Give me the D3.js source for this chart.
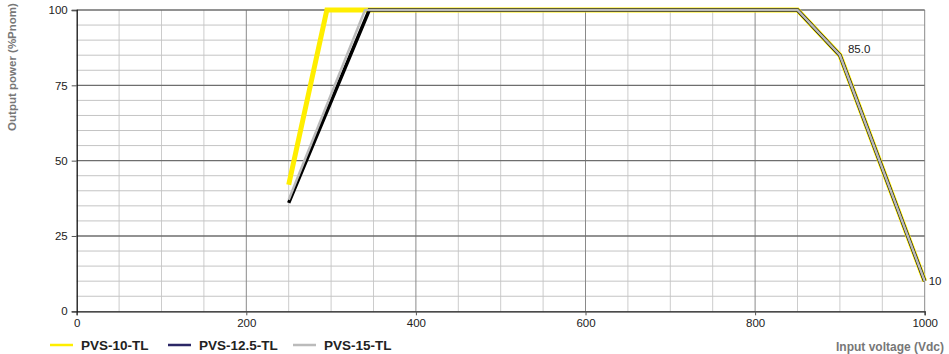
<!DOCTYPE html>
<html>
<head>
<meta charset="utf-8">
<script src="https://cdn.jsdelivr.net/npm/d3@7"></script>
<style>
  body { margin: 0; background: #fff; }
  text { font-family: "Liberation Sans", Arial, sans-serif; }
</style>
</head>
<body>
<div id="chart"></div>
<script>
// data
var names = ['PVS-10-TL', 'PVS-12.5-TL', 'PVS-15-TL'];
var legendColors = ['#ffee00', '#2b2766', '#bbbbbb'];
var lineColors = ['#ffee00', '#000000', '#bbbbbb'];
var lineWidths = [5, 3.5, 2.5];
var voltage10 = [250, 295, 850, 900, 1000];
var power10 = [42, 100, 100, 85, 10];
var voltage12 = [250, 345, 850, 900, 1000];
var power12 = [36, 100, 100, 85, 10];
var voltage15 = [250, 340, 850, 900, 1000];
var power15 = [37, 100, 100, 85, 10];
var xTicks = [0, 200, 400, 600, 800, 1000];
var yTicks = [0, 25, 50, 75, 100];
var pointLabels = [{v: 900, p: 85, t: '85.0'}, {v: 1000, p: 10, t: '10'}];

var W = 949, H = 354;
var margin = {left: 76.7, right: 24.3, top: 10, bottom: 42.7};

var svg = d3.select('#chart')
    .append('svg')
    .attr('width', W)
    .attr('height', H);

var x = d3.scaleLinear().domain([0, 1000]).range([margin.left, W - margin.right]);
var y = d3.scaleLinear().domain([0, 100]).range([H - margin.bottom, margin.top]);

// grid - minor first
var g = svg.append('g');
g.selectAll('line.vminor')
    .data(d3.range(50, 1000, 50).filter(function(d){return d % 200 != 0}))
    .enter().append('line')
    .attr('x1', function(d){return x(d)}).attr('x2', function(d){return x(d)})
    .attr('y1', y(0)).attr('y2', y(100))
    .attr('stroke', '#cccccc').attr('stroke-width', 1);
g.selectAll('line.hminor')
    .data(d3.range(5, 100, 5).filter(function(d){return d % 25 != 0}))
    .enter().append('line')
    .attr('x1', x(0)).attr('x2', x(1000))
    .attr('y1', function(d){return y(d)}).attr('y2', function(d){return y(d)})
    .attr('stroke', '#c4c4c4').attr('stroke-width', 1);
g.selectAll('line.vmajor')
    .data([200, 400, 600, 800, 1000])
    .enter().append('line')
    .attr('x1', function(d){return x(d)}).attr('x2', function(d){return x(d)})
    .attr('y1', y(0)).attr('y2', y(100))
    .attr('stroke', '#8a8a8a').attr('stroke-width', 1);
g.selectAll('line.hmajor')
    .data([25, 50, 75, 100])
    .enter().append('line')
    .attr('x1', x(0)).attr('x2', x(1000))
    .attr('y1', function(d){return y(d)}).attr('y2', function(d){return y(d)})
    .attr('stroke', '#6e6e6e').attr('stroke-width', 1.3);

// axes
var xAxis = svg.append('g')
    .attr('transform', 'translate(0,' + y(0) + ')')
    .call(d3.axisBottom(x).tickValues(xTicks).tickFormat(d3.format('d')).tickSize(4).tickPadding(4));
var yAxis = svg.append('g')
    .attr('transform', 'translate(' + x(0) + ',0)')
    .call(d3.axisLeft(y).tickValues(yTicks).tickFormat(d3.format('d')).tickSize(5).tickPadding(4));
[xAxis, yAxis].forEach(function(a){
    a.select('.domain').attr('stroke', '#111').attr('stroke-width', 1.3);
    a.selectAll('.tick line').attr('stroke', '#555');
    a.selectAll('.tick text').attr('fill', '#222').style('font-size', '11.5px');
});

// lines
var series = [
    d3.zip(voltage10, power10),
    d3.zip(voltage12, power12),
    d3.zip(voltage15, power15)
];
var line = d3.line().x(function(d){return x(d[0])}).y(function(d){return y(d[1])});

svg.selectAll('path.curve')
    .data(series)
    .enter().append('path')
    .attr('class', 'curve')
    .attr('d', line)
    .attr('fill', 'none')
    .attr('stroke', function(d, i){return lineColors[i]})
    .attr('stroke-width', function(d, i){return lineWidths[i]})
    .attr('stroke-linejoin', 'miter');

// point labels
svg.selectAll('text.pl')
    .data(pointLabels)
    .enter().append('text')
    .attr('class', 'pl')
    .attr('x', function(d){return x(d.v) + (d.v == 1000 ? 4 : 8)})
    .attr('y', function(d){return y(d.p) + (d.v == 1000 ? 4 : -2)})
    .attr('fill', '#222')
    .style('font-size', '11.5px')
    .text(function(d){return d.t});

// axis titles
svg.append('text')
    .attr('transform', 'translate(16,67) rotate(-90)')
    .attr('text-anchor', 'middle')
    .attr('fill', '#777')
    .style('font-size', '11.5px')
    .style('font-weight', 'bold')
    .text('Output power (%Pnom)');

svg.append('text')
    .attr('x', 944)
    .attr('y', 351)
    .attr('text-anchor', 'end')
    .attr('fill', '#777')
    .style('font-size', '12px')
    .style('font-weight', 'bold')
    .text('Input voltage (Vdc)');

// legend
var legendX = [50, 168, 293];
var lg = svg.selectAll('g.legend')
    .data(names)
    .enter().append('g')
    .attr('class', 'legend')
    .attr('transform', function(d, i){return 'translate(' + legendX[i] + ',345)'});
lg.append('line')
    .attr('x1', 0).attr('x2', 23)
    .attr('y1', 0).attr('y2', 0)
    .attr('stroke', function(d, i){return legendColors[i]})
    .attr('stroke-width', 2.5);
lg.append('text')
    .attr('x', 31)
    .attr('y', 4.5)
    .attr('fill', '#222')
    .style('font-size', '13.5px')
    .style('font-weight', 'bold')
    .text(function(d){return d});
</script>
</body>
</html>
